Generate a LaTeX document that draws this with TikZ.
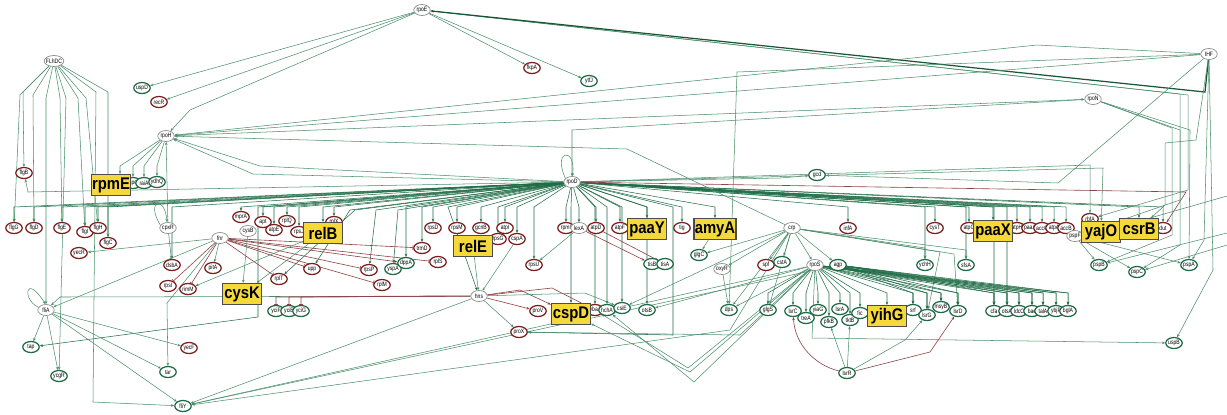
\documentclass[tikz,border=0pt]{standalone}
\usepackage{fontspec}
\setmainfont{Liberation Sans}
\newfontfamily\lblfont{Liberation Sans}[FakeStretch=0.8]
\newfontfamily\boxfont{Liberation Sans}[FakeStretch=0.88]
\usetikzlibrary{arrows.meta,shapes.geometric}
\pgfdeclarelayer{bg}
\pgfsetlayers{bg,main}
\definecolor{edgeg}{HTML}{4A8F6C}
\definecolor{fang}{HTML}{1F6C46}
\definecolor{gnode}{HTML}{1E6A45}
\definecolor{rnode}{HTML}{7B1D1D}
\definecolor{edger}{HTML}{8E4545}
\definecolor{ybox}{HTML}{F5D93B}
\tikzset{
  nd/.style={ellipse, inner xsep=-0.6pt, inner ysep=-0.2pt, minimum width=0.33cm, minimum height=0.22cm, fill=white, font=\lblfont\fontsize{3.6}{4}\selectfont, line width=0.7pt},
  gn/.style={nd, draw=gnode},
  rn/.style={nd, draw=rnode},
  wn/.style={nd, draw=black!45, line width=0.4pt},
  yb/.style={rectangle, fill=ybox, draw=black!70, line width=0.7pt, inner sep=0.4pt, minimum width=0.78cm, minimum height=0.42cm, font=\boxfont\fontsize{9.6}{10}\selectfont\bfseries},
  ed/.style={draw=edgeg, line width=0.3pt, -{Stealth[length=1.8pt,width=1.5pt]}},
  fan/.style={draw=fang, line width=0.3pt, -{Stealth[length=1.8pt,width=1.5pt]}},
  rd/.style={draw=edger, line width=0.35pt, -{Stealth[length=1.8pt,width=1.5pt]}},
  rbar/.style={draw=edger, line width=0.35pt, -{Bar[width=2.5pt]}},
}
\begin{document}
\begin{tikzpicture}[x=0.02cm,y=-0.02cm]
\useasboundingbox (0,0) rectangle (1227,414);
\begin{pgfonlayer}{bg}
\fill[white] (0,0) rectangle (1227,414);
\end{pgfonlayer}
% ---------- regulators and genes ----------
\node[wn] (rpoE) at (422,10) {rpoE};
\node[wn] (IHF) at (1209,54) {IHF};
\node[wn] (rpoN) at (1093,99) {rpoN};
\node[wn] (FLhDC) at (54,61) {FLhDC};
\node[gn] (uspD) at (142,88) {uspD};
\node[rn] (recR) at (159,102) {recR};
\node[rn] (fkpA) at (532,68) {fkpA};
\node[gn] (ytfJ) at (589,81) {ytfJ};
\node[wn] (rpoH) at (166,136) {rpoH};
\node[gn] (gcd) at (817,175) {gcd};
\node[wn] (rpoD) at (572,182) {rpoD};
\node[rn] (flgB) at (24,173) {flgB};
\node[gn] (spc) at (133,183) {spc};
\node[gn] (raiA) at (144,183) {raiA};
\node[gn] (ydhQ) at (157,182) {ydhQ};
% left row
\node[rn] (flgG) at (14,228) {flgG};
\node[rn] (flgD) at (34,228) {flgD};
\node[rn] (flgE) at (62,228) {flgE};
\node[rn] (flgI) at (85,232) {flgI};
\node[rn] (flgH) at (98,228) {flgH};
\node[rn] (flgC) at (108,243) {flgC};
\node[rn] (yecR) at (79,253) {yecR};
\node[wn] (cpxR) at (168,228) {cpxR};
\node[rn] (dsbA) at (172,265) {dsbA};
\node[wn] (fnr) at (220,238) {fnr};
\node[rn] (mprA) at (241,217) {mprA};
\node[wn] (cysB) at (248,231) {cysB};
\node[rn] (apt) at (263,222) {apt};
\node[rn] (atpE) at (274,230) {atpE};
\node[rn] (rplQ) at (287,221) {rplQ};
\node[rn] (rpsJ) at (299,232) {rpsJ};
\node[rn] (rplX) at (334,222) {rplX};
\node[rn] (pitA) at (213,268) {pitA};
\node[rn] (rpsI) at (168,286) {rpsI};
\node[rn] (rimM) at (188,289) {rimM};
\node[rn] (rplT) at (279,279) {rplT};
\node[rn] (upp) at (312,269) {upp};
\node[rn] (rpsP) at (369,270) {rpsP};
\node[rn] (rplM) at (382,285) {rplM};
\node[gn] (yspA) at (393,269) {yspA};
\node[gn] (dppA) at (406,263) {dppA};
\node[gn] (yciF) at (276,311) {yciF};
\node[gn] (yciE) at (289,311) {yciE};
\node[gn] (yciG) at (301,311) {yciG};
\node[wn] (fliA) at (46,310) {fliA};
\node[gn] (tap) at (31,347) {tap};
\node[gn] (ycgR) at (59,376) {ycgR};
\node[rn] (yecF) at (189,348) {yecF};
\node[gn] (tar) at (168,372) {tar};
\node[gn] (fliY) at (183,406) {fliY};
% middle row
\node[rn] (rpsD) at (433,228) {rpsD};
\node[rn] (rpsM) at (457,228) {rpsM};
\node[rn] (gcnB) at (481,228) {gcnB};
\node[rn] (atpI) at (505,228) {atpI};
\node[rn] (trmD) at (422,248) {trmD};
\node[rn] (rplS) at (438,262) {rplS};
\node[rn] (rpsG) at (498,239) {rpsG};
\node[rn] (cspA) at (517,239) {cspA};
\node[rn] (rpmI) at (566,228) {rpmI};
\node[wn] (lexA) at (579,228) {lexA};
\node[rn] (atpD) at (596,228) {atpD};
\node[rn] (atpF) at (620,228) {atpF};
\node[rn] (tig) at (682,228) {tig};
\node[gn] (glgC) at (699,255) {glgC};
\node[rn] (rpsU) at (534,265) {rpsU};
\node[gn] (tisB) at (652,264) {tisB};
\node[gn] (tisA) at (665,264) {tisA};
\node[wn] (crp) at (792,228) {crp};
\node[wn] (oxyR) at (722,269) {oxyR};
\node[rn] (spf) at (766,265) {spf};
\node[gn] (cstA) at (782,262) {cstA};
\node[wn] (hns) at (479,296) {hns};
\node[rn] (proV) at (538,311) {proV};
\node[rn] (ybaJ) at (595,310) {ybaJ};
\node[gn] (hchA) at (607,310) {hchA};
\node[gn] (csiE) at (622,308) {csiE};
\node[gn] (otsB) at (647,310) {otsB};
\node[rn] (proX) at (519,332) {proX};
\node[gn] (dps) at (729,310) {dps};
\node[gn] (glgS) at (768,310) {glgS};
% right
\node[rn] (infA) at (848,228) {infA};
\node[rn] (cysT) at (935,228) {cysT};
\node[wn] (rpoS) at (815,265) {rpoS};
\node[gn] (agp) at (838,265) {agp};
\node[gn] (ychH) at (925,265) {ychH};
\node[gn] (sfsA) at (966,265) {sfsA};
\node[rn] (atpG) at (969,228) {atpG};
\node[rn] (atpH) at (1017,228) {atpH};
\node[rn] (paaA) at (1030,228) {paaA};
\node[rn] (accC) at (1042,228) {accC};
\node[rn] (atpA) at (1054,228) {atpA};
\node[rn] (accB) at (1066,228) {accB};
\node[rn] (rbfA) at (1090,219) {rbfA};
\node[wn] (pspF) at (1075,236) {pspF};
\node[rn] (dut) at (1163,228) {dut};
\node[gn] (pspB) at (1099,265) {pspB};
\node[gn] (pspC) at (1137,272) {pspC};
\node[gn] (pspA) at (1189,265) {pspA};
\node[gn] (uspB) at (1174,343) {uspB};
\node[gn] (lsrC) at (793,311) {lsrC};
\node[gn] (treA) at (806,318) {treA};
\node[gn] (yiaG) at (818,310) {yiaG};
\node[gn] (lsrA) at (840,309) {lsrA};
\node[gn] (pfkB) at (829,322) {pfkB};
\node[gn] (tktB) at (850,320) {tktB};
\node[gn] (fic) at (860,313) {fic};
\node[gn] (srf) at (913,310) {srf};
\node[gn] (lsrG) at (927,315) {lsrG};
\node[gn] (msyB) at (941,307) {msyB};
\node[gn] (lsrD) at (958,311) {lsrD};
\node[gn] (cfa) at (994,311) {cfa};
\node[gn] (otsA) at (1007,311) {otsA};
\node[gn] (ldcC) at (1019,311) {ldcC};
\node[gn] (bae) at (1032,311) {bae};
\node[gn] (talA) at (1043,311) {talA};
\node[gn] (ybjP) at (1056,311) {ybjP};
\node[gn] (bglA) at (1068,311) {bglA};
\node[gn] (lsrR) at (847,373) {lsrR};
% highlighted genes
\node[yb] (rpmE) at (111,185) {rpmE};
\node[yb] (relB) at (323,233) {relB};
\node[yb] (cysK) at (242,294) {cysK};
\node[yb] (relE) at (473,246) {relE};
\node[yb] (paaY) at (647,229) {paaY};
\node[yb] (amyA) at (715,229) {amyA};
\node[yb] (cspD) at (571,314) {cspD};
\node[yb] (yihG) at (887,316) {yihG};
\node[yb] (paaX) at (993,231) {paaX};
\node[yb] (yajO) at (1101,232) {yajO};
\node[yb] (csrB) at (1139,229) {csrB};
% helper coordinates
\coordinate (fanY) at (0,207);
\coordinate (rowY) at (0,293);
\coordinate (hY) at (0,297);
\coordinate (c120) at (120,166);
\coordinate (rb1) at (1227,233);
\coordinate (rb2) at (1227,245);
\coordinate (rb3) at (1227,196);
% ---------- connectors ----------
\begin{pgfonlayer}{bg}
% rpoD fan
\foreach \t in {flgG,flgD,flgE,flgI,flgH,flgC,dsbA,mprA,apt,atpE,rplQ,rpsJ,rplX,relB,rpsD,rpsM,gcnB,atpI,trmD,dppA,rpsG,cspA,rpsU,rpmI,lexA,atpD,atpF,paaY,tig,amyA,cspD,ybaJ,hchA,csiE,otsB,infA,cysT,ychH,sfsA,atpG,paaX,cfa,otsA,atpH,paaA,accC,atpA,accB,dut,csrB}
  \draw[fan] (rpoD) -- (\t |- fanY) -- (\t);
\draw[fan] (rpoD) -- (258,207) -- (258,317) -- (tap);
\draw[fan] (rpoD) -- (673,207) -- (673,335) -- (proX);
\draw[fan] (rpoD) -- (448,207) -- (hns);
\draw[fan] (rpoD) -- (355,210) -- (rplT);
\draw[fan] (rpoD) -- (350,210) -- (upp);
\draw[fan] (rpoD) -- (376,210) -- (rpsP);
\draw[fan] (rpoD) -- (398,210) -- (yspA);
\draw[ed] (rpoD) -- (28,192) -- (flgB);
\draw[ed] (rpoD) -- (260,166) -- (rpoH);
\draw[ed] (rpoD) -- (253,174) -- (rpoH);
\draw[ed] (rpoD) -- (780,178) -- (gcd);
\draw[ed] (rpoD) -- (1090,165) -- (rbfA);
\draw[ed] (rpoD) -- (1103,168) -- (yajO);
\draw[rd] (rpoD) -- (1186,192) -- (dut);
\draw[ed] (rpoD.150) .. controls (552,150) and (576,146) .. (rpoD.85);
% rpoE
\draw[ed] (rpoE) -- (uspD);
\draw[ed] (rpoE) -- (recR);
\draw[ed] (rpoE) -- (190,110) -- (rpoH);
\draw[ed] (rpoE) -- (fkpA);
\draw[ed] (rpoE) -- (ytfJ);
\draw[ed] (rpoE) -- (1188,95) -- (1188,190) -- (rbfA);
\draw[ed] (rpoE) -- (1180,94) -- (1180,200) -- (pspF);
% IHF
\draw[ed, draw=fang!80!black, line width=0.7pt] (IHF) -- (1205,92) -- (rpoE);
\draw[ed] (IHF) -- (1037,45) -- (rpoH);
\draw[ed] (IHF) -- (rpoH);
\draw[ed] (IHF) -- (737,72) -- (dps);
\draw[ed] (IHF) -- (1058,183) -- (gcd);
\draw[ed] (IHF) -- (1213,270) -- (uspB);
\draw[ed] (IHF) -- (1204,240) -- (pspA);
\draw[ed] (IHF) -- (1196,140) -- (1165,143) -- (1165,205) -- (csrB);
% rpoN
\draw[ed] (rpoN) -- (572,130) -- (rpoD);
\draw[ed] (rpoH) -- (rpoN);
\draw[ed] (rpoN) -- (1172,128) -- (1172,235) -- (pspB);
\draw[ed] (rpoN) -- (1180,130) -- (1180,245) -- (pspC);
\draw[ed] (rpoN) -- (1190,130) -- (pspA);
\draw[ed] (rb1) -- (pspB);
\draw[ed] (rb2) -- (pspC);
\draw[ed] (rb3) -- (yajO);
\draw[ed] (pspF) -- (pspB);
\draw[ed] (pspF) -- (pspC);
\draw[ed] (pspF) -- (pspA);
% rpoH
\draw[ed] (rpoH) -- (c120) -- (rpmE.north -| c120);
\foreach \t in {spc,raiA,ydhQ} \draw[ed] (rpoH) -- (\t |- c120) -- (\t);
\draw[ed] (cpxR) -- (rpoH);
\draw[ed] (crp) -- (627,149) -- (rpoH);
% FLhDC
\draw[ed] (FLhDC) -- (23,92) -- (flgB);
\draw[ed] (FLhDC) -- (20,95) -- (flgG);
\draw[ed] (FLhDC) -- (33,95) -- (flgD);
\draw[ed] (FLhDC) -- (46,98) -- (fliA);
\draw[ed] (FLhDC) -- (60,98) -- (flgE);
\draw[ed] (FLhDC) -- (66,98) -- (ycgR);
\draw[ed] (FLhDC) -- (78,98) -- (flgI);
\draw[ed] (FLhDC) -- (86,98) -- (flgH);
\draw[ed] (FLhDC) -- (96,92) -- (93,402) -- (fliY);
\draw[ed] (FLhDC) -- (108,92) -- (flgC);
% cpxR
\draw[ed] (cpxR.160) .. controls (145,200) and (165,195) .. (cpxR.100);
\draw[ed] (cpxR) -- (dsbA);
% fnr
\draw[ed] (fnr) -- (yecR);
\draw[ed] (fnr) -- (fliA);
\draw[ed] (fnr) -- (pitA);
\draw[ed] (fnr) -- (167,303) -- (tar);
\foreach \t in {rpsI,rimM,rplT,upp,rpsP,rplM,trmD,rplS} \draw[rbar] (fnr) -- (\t);
\draw[rd] (fnr) -- (dppA);
\draw[ed] (relB) -- (rimM);
\draw[ed] (relB) -- (cysK);
\draw[ed] (cysB) -- (cysK);
% hns
\draw[ed] (hns) -- (60,297) -- (fliA);
\foreach \t in {yciF,yciE,yciG} \draw[rbar] (hns) -- (\t |- hY) -- (\t);
\draw[rd] (hns) -- (proV);
\draw[ed] (hns) -- (proX);
\draw[rd] (hns) -- (520,290) -- (cspD);
\draw[rd] (hns) -- (552,288) -- (ybaJ);
\draw[ed] (hns) -- (585,293) -- (csiE);
\draw[ed] (hns) -- (fliY);
\draw[ed] (relE) -- (hns);
\draw[ed] (cspA) -- (hns);
% lexA
\draw[rd] (lexA) -- (tisB);
\draw[rd] (atpD) -- (tisA);
\draw[ed] (lexA) -- (rpsU);
% crp
\foreach \t in {glgC,oxyR,spf,cstA,rpoS,agp,dps,glgS,csiE} \draw[ed] (crp) -- (\t);
\draw[ed] (crp) -- (925,248) -- (ychH);
\draw[ed] (crp) -- (966,250) -- (sfsA);
\draw[ed] (crp) -- (940,252) -- (lsrG);
\draw[ed] (crp) -- (954,254) -- (lsrD);
\draw[ed] (crp) -- (730,330) -- (fliY);
\draw[ed] (amyA) -- (glgC);
\draw[ed] (oxyR) -- (dps);
% rpoS
\foreach \t in {glgS,lsrC,treA,yiaG,lsrA,pfkB,tktB,fic,yihG,srf,lsrG,msyB,lsrD,cfa,otsA,ldcC,bae,talA,ybjP,bglA}
  \draw[fan] (rpoS) -- (\t |- rowY) -- (\t);
\foreach \t in {srf,lsrG,msyB,lsrD,cfa,otsA,ldcC,bae,talA,ybjP,bglA}
  \draw[fan] (agp) -- (\t |- rowY) -- (\t);
\draw[ed] (rpoS) -- (dps);
\draw[ed] (rpoS) -- (otsB);
\draw[ed] (rpoS) -- (690,372) -- (cspD);
\draw[ed] (rpoS) -- (694,382) -- (hchA);
\draw[ed] (rpoS) -- (688,368) -- (ybaJ);
\draw[ed] (rpoS) -- (740,335) -- (proX);
\draw[ed] (rpoS) -- (fliY);
\draw[ed] (agp) -- (fliY);
\draw[ed] (rpoS) -- (812,338) -- (uspB);
% lsrR
\draw[rd] (lsrR) .. controls (815,365) and (795,345) .. (lsrC);
\draw[ed] (lsrR) -- (pfkB);
\draw[ed] (lsrR) -- (tktB);
\draw[ed] (lsrR) -- (905,340) -- (lsrG);
\draw[rd] (lsrR) -- (930,352) -- (lsrD);
% fliA
\draw[ed] (fliA.160) .. controls (22,300) and (25,272) .. (fliA.95);
\foreach \t in {tap,ycgR,yecF,tar,fliY} \draw[ed] (fliA) -- (\t);
\end{pgfonlayer}
\end{tikzpicture}
\end{document}
